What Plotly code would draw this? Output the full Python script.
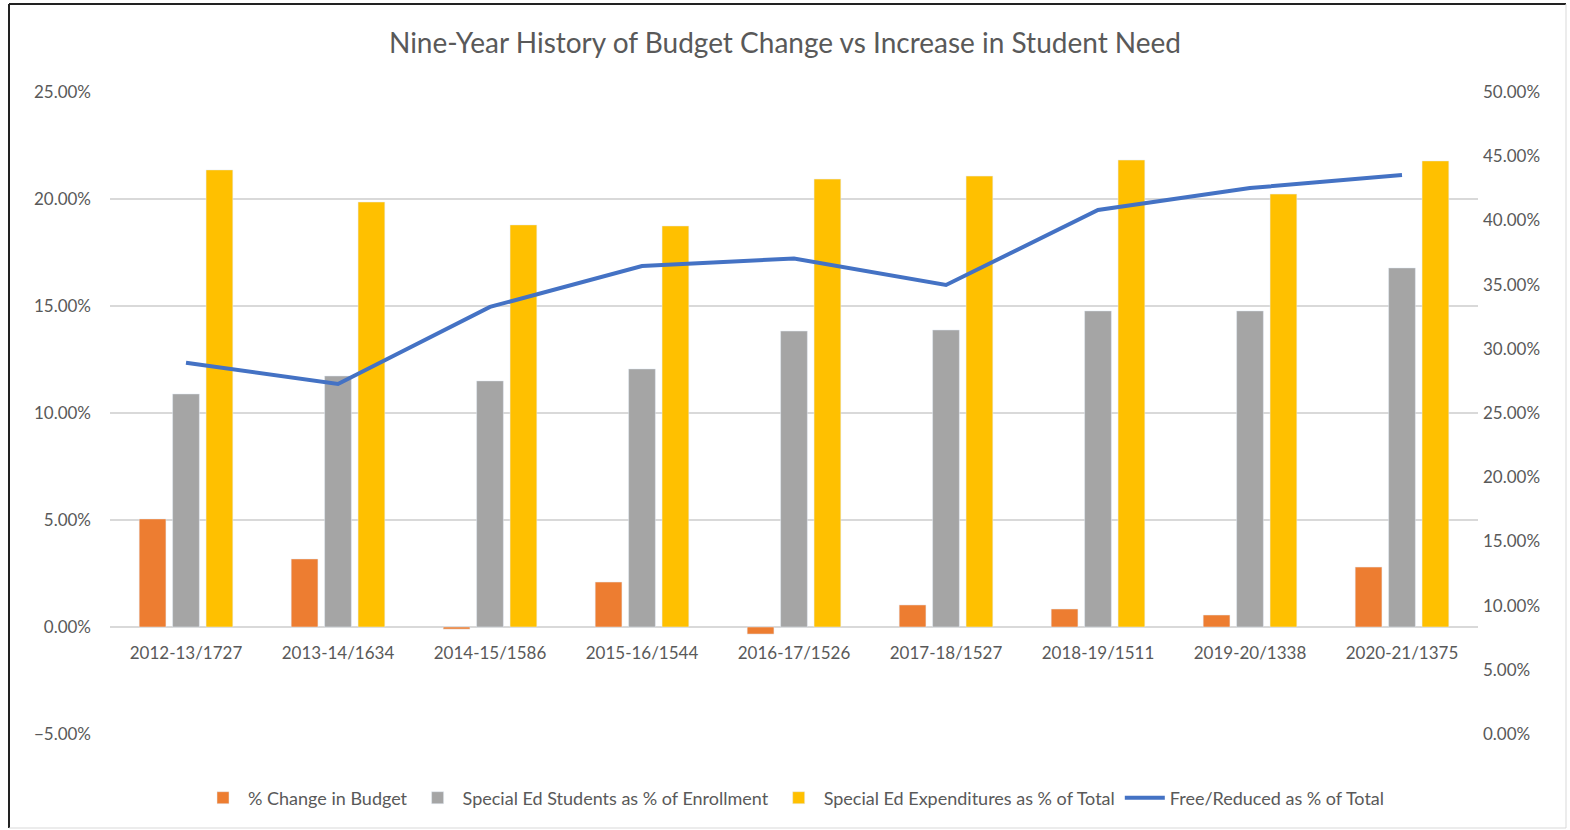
import plotly.graph_objects as go

categories = ["2012-13/1727", "2013-14/1634", "2014-15/1586", "2015-16/1544", "2016-17/1526",
              "2017-18/1527", "2018-19/1511", "2019-20/1338", "2020-21/1375"]
pct_change_budget = [5.05, 3.18, -0.10, 2.10, -0.33, 1.03, 0.84, 0.56, 2.80]
sped_students_pct = [10.89, 11.73, 11.50, 12.06, 13.83, 13.88, 14.77, 14.77, 16.78]
sped_expend_pct = [21.36, 19.86, 18.79, 18.74, 20.93, 21.07, 21.82, 20.23, 21.78]
free_reduced_pct = [28.92, 27.26, 33.26, 36.45, 37.03, 34.97, 40.81, 42.52, 43.54]

names = ["% Change in Budget", "Special Ed Students as % of Enrollment",
         "Special Ed Expenditures as % of Total", "Free/Reduced as % of Total"]

FONT = "Lato"
TXT = "#595959"

fig = go.Figure()
fig.add_trace(go.Bar(x=categories, y=pct_change_budget, name=names[0], marker_color="#ED7D31"))
fig.add_trace(go.Bar(x=categories, y=sped_students_pct, name=names[1], marker_color="#A5A5A5"))
fig.add_trace(go.Bar(x=categories, y=sped_expend_pct, name=names[2], marker_color="#FFC000"))
fig.add_trace(go.Scatter(x=categories, y=free_reduced_pct, name=names[3], yaxis="y2",
                         mode="lines", line=dict(color="#4472C4", width=4)))

fig.update_layout(
    width=1570, height=830,
    margin=dict(l=110, r=92, t=92, b=96),
    paper_bgcolor="white", plot_bgcolor="white",
    font=dict(family=FONT, color=TXT, size=15),
    title=dict(text="Nine-Year History of Budget Change vs Increase in Student Need",
               x=0.5, xanchor="center", y=1 - 43 / 830, yanchor="middle",
               font=dict(size=28, color=TXT, family=FONT)),
    barmode="group", bargap=0.34, bargroupgap=0.2,
    showlegend=True,
    legend=dict(orientation="h", x=0.5, xanchor="center", y=(734 - 798) / 642, yanchor="middle",
                font=dict(size=18, color=TXT), traceorder="normal", itemwidth=40),
    xaxis=dict(anchor="free", position=5 / 30, showgrid=False, showline=False, ticks="",
               tickfont=dict(size=17, color=TXT), range=[-0.5, 8.5], ticklabelstandoff=14),
    yaxis=dict(range=[-5, 25], dtick=5, tickformat=".2f", ticksuffix="%",
               showgrid=True, gridcolor="#D9D9D9", gridwidth=1.5, zeroline=False,
               showline=False, ticks="", tickfont=dict(size=17, color=TXT), ticklabelstandoff=18),
    yaxis2=dict(overlaying="y", side="right", range=[0, 50], dtick=5, tickformat=".2f",
                ticksuffix="%", showgrid=False, zeroline=False, showline=False, ticks="",
                tickfont=dict(size=17, color=TXT), ticklabelstandoff=4),
)

# outer chart border
fig.add_shape(type="line", xref="paper", yref="paper",
              x0=(9 - 110) / 1368, x1=(9 - 110) / 1368, y0=(734 - 828) / 642, y1=(734 - 4) / 642,
              line=dict(color="#222222", width=2))
fig.add_shape(type="line", xref="paper", yref="paper",
              x0=(9 - 110) / 1368, x1=(1566 - 110) / 1368, y0=(734 - 4) / 642, y1=(734 - 4) / 642,
              line=dict(color="#222222", width=2))
fig.add_shape(type="line", xref="paper", yref="paper",
              x0=(1566 - 110) / 1368, x1=(1566 - 110) / 1368, y0=(734 - 828) / 642, y1=(734 - 4) / 642,
              line=dict(color="#D9D9D9", width=1))
fig.add_shape(type="line", xref="paper", yref="paper",
              x0=(9 - 110) / 1368, x1=(1566 - 110) / 1368, y0=(734 - 828) / 642, y1=(734 - 828) / 642,
              line=dict(color="#D9D9D9", width=1))

fig.write_html("out.html")
